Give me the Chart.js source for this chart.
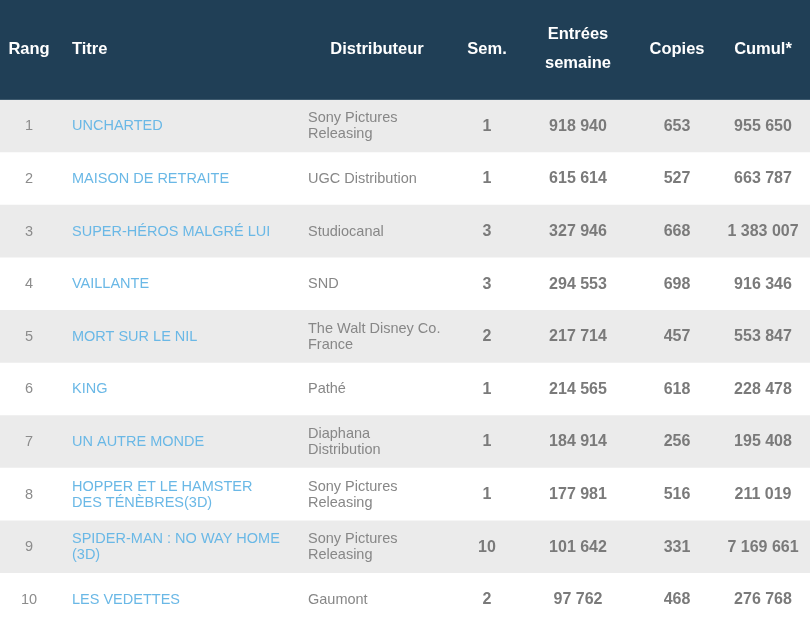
<!DOCTYPE html>
<html>
<head>
<meta charset="utf-8">
<script src="https://cdn.jsdelivr.net/npm/chart.js@4.4.1/dist/chart.umd.min.js"></script>
<style>
  html, body { margin: 0; padding: 0; background: #ffffff; }
  canvas { display: block; }
</style>
</head>
<body>
<canvas id="c" width="810" height="626"></canvas>
<script>
// ---------- DATA ----------
const headers = ['Rang', 'Titre', 'Distributeur', 'Sem.', 'Entrées\nsemaine', 'Copies', 'Cumul*'];
const ranks = ['1', '2', '3', '4', '5', '6', '7', '8', '9', '10'];
const titles = [
  'UNCHARTED',
  'MAISON DE RETRAITE',
  'SUPER-HÉROS MALGRÉ LUI',
  'VAILLANTE',
  'MORT SUR LE NIL',
  'KING',
  'UN AUTRE MONDE',
  'HOPPER ET LE HAMSTER DES TÉNÈBRES(3D)',
  'SPIDER-MAN : NO WAY HOME (3D)',
  'LES VEDETTES'
];
const distributors = [
  'Sony Pictures Releasing',
  'UGC Distribution',
  'Studiocanal',
  'SND',
  'The Walt Disney Co. France',
  'Pathé',
  'Diaphana Distribution',
  'Sony Pictures Releasing',
  'Sony Pictures Releasing',
  'Gaumont'
];
const weeks = [1, 1, 3, 3, 2, 1, 1, 1, 10, 2];
const weeklyAdmissions = [918940, 615614, 327946, 294553, 217714, 214565, 184914, 177981, 101642, 97762];
const copies = [653, 527, 668, 698, 457, 618, 256, 516, 331, 468];
const cumul = [955650, 663787, 1383007, 916346, 553847, 228478, 195408, 211019, 7169661, 276768];

// ---------- LAYOUT / STYLE ----------
const W = 810;
const colX = { rang: 29, titre: 72, distrib: 308, distribHead: 377, sem: 487, entrees: 578, copies: 677, cumul: 763 };
const headerBg = '#203f56';
const stripe = '#ebebeb';
const fontFamily = '"Liberation Sans", Arial, sans-serif';

function fmt(n) {
  return String(n).replace(/\B(?=(\d{3})+(?!\d))/g, ' ');
}
function wrap(ctx, text, maxW) {
  const words = text.split(' ');
  const lines = [];
  let cur = '';
  for (const w of words) {
    const t = cur ? cur + ' ' + w : w;
    if (cur && ctx.measureText(t).width > maxW) { lines.push(cur); cur = w; }
    else cur = t;
  }
  if (cur) lines.push(cur);
  return lines;
}
function drawLines(ctx, lines, x, y, lh) {
  const start = y - (lines.length - 1) * lh / 2;
  lines.forEach((l, i) => ctx.fillText(l, x, start + i * lh));
}

const tablePlugin = {
  id: 'tablePlugin',
  beforeDraw(chart) {
    const ctx = chart.ctx;
    const top = chart.chartArea.top;
    ctx.save();
    ctx.fillStyle = headerBg;
    ctx.fillRect(0, 0, W, top);
    ctx.fillStyle = '#3e5a6e';
    ctx.fillRect(0, top - 1, W, 1);
    ctx.restore();
  },
  afterDatasetsDraw(chart) {
    const ctx = chart.ctx;
    const xs = chart.scales.x;
    const ys = chart.scales.y;
    const top = chart.chartArea.top;
    const X = v => xs.getPixelForValue(v);
    ctx.save();
    ctx.textBaseline = 'middle';

    // header
    ctx.fillStyle = '#ffffff';
    ctx.font = 'bold 16.5px ' + fontFamily;
    const hy = top / 2 - 1;
    const hPos = [
      [colX.rang, 'center'], [colX.titre, 'left'], [colX.distribHead, 'center'],
      [colX.sem, 'center'], [colX.entrees, 'center'], [colX.copies, 'center'], [colX.cumul, 'center']
    ];
    headers.forEach((h, i) => {
      ctx.textAlign = hPos[i][1];
      drawLines(ctx, h.split('\n'), X(hPos[i][0]), hy, 29);
    });

    // rows
    ranks.forEach((r, i) => {
      const y = ys.getPixelForValue(i);
      ctx.textAlign = 'center';
      ctx.font = '14.5px ' + fontFamily;
      ctx.fillStyle = '#8c8c8c';
      ctx.fillText(r, X(colX.rang), y);

      ctx.textAlign = 'left';
      ctx.fillStyle = '#6ab8e6';
      drawLines(ctx, wrap(ctx, titles[i], 214), X(colX.titre), y, 16);

      ctx.fillStyle = '#878787';
      drawLines(ctx, wrap(ctx, distributors[i], 138), X(colX.distrib), y, 16);

      ctx.textAlign = 'center';
      ctx.font = 'bold 16px ' + fontFamily;
      ctx.fillStyle = '#7a7a7a';
      ctx.fillText(String(weeks[i]), X(colX.sem), y);
      ctx.fillText(fmt(weeklyAdmissions[i]), X(colX.entrees), y);
      ctx.fillText(String(copies[i]), X(colX.copies), y);
      ctx.fillText(fmt(cumul[i]), X(colX.cumul), y);
    });
    ctx.restore();
  }
};

new Chart(document.getElementById('c'), {
  type: 'bar',
  data: {
    labels: ranks,
    datasets: [{
      label: 'rows',
      data: ranks.map(() => [0, W]),
      backgroundColor: ranks.map((_, i) => i % 2 === 0 ? stripe : '#ffffff'),
      borderWidth: 0,
      barPercentage: 1,
      categoryPercentage: 1
    }]
  },
  options: {
    indexAxis: 'y',
    responsive: false,
    animation: false,
    events: [],
    layout: { padding: { top: 100, left: 0, right: 0, bottom: 0 } },
    plugins: { legend: { display: false }, tooltip: { enabled: false } },
    scales: {
      x: { type: 'linear', min: 0, max: W, display: false },
      y: { type: 'category', offset: true, display: false, grid: { display: false } }
    }
  },
  plugins: [tablePlugin]
});
</script>
</body>
</html>
